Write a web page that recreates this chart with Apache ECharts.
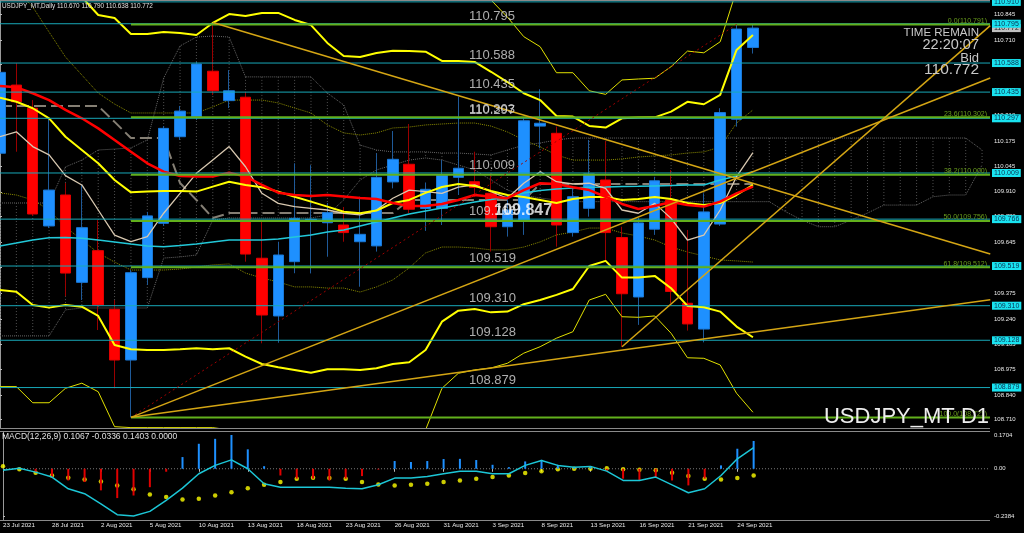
<!DOCTYPE html>
<html><head><meta charset="utf-8">
<script src="https://cdn.jsdelivr.net/npm/echarts@6/dist/echarts.min.js"></script>
<style>html,body{margin:0;padding:0;background:#000}#c{width:1024px;height:533px}</style>
</head><body><div id="c"></div>
<script>
// ---------------- DATA ----------------
const dates = ['23 Jul 2021','26 Jul 2021','27 Jul 2021','28 Jul 2021','29 Jul 2021','30 Jul 2021','2 Aug 2021','3 Aug 2021','4 Aug 2021','5 Aug 2021','6 Aug 2021','9 Aug 2021','10 Aug 2021','11 Aug 2021','12 Aug 2021','13 Aug 2021','16 Aug 2021','17 Aug 2021','18 Aug 2021','19 Aug 2021','20 Aug 2021','23 Aug 2021','24 Aug 2021','25 Aug 2021','26 Aug 2021','27 Aug 2021','30 Aug 2021','31 Aug 2021','1 Sep 2021','2 Sep 2021','3 Sep 2021','6 Sep 2021','7 Sep 2021','8 Sep 2021','9 Sep 2021','10 Sep 2021','13 Sep 2021','14 Sep 2021','15 Sep 2021','16 Sep 2021','17 Sep 2021','20 Sep 2021','21 Sep 2021','22 Sep 2021','23 Sep 2021','24 Sep 2021','27 Sep 2021'];

const open  = [110.113,110.472,110.350,109.730,109.893,109.433,109.600,109.291,109.024,109.458,109.744,110.200,110.305,110.545,110.390,110.408,109.560,109.256,109.542,109.755,109.747,109.735,109.647,109.625,109.962,110.055,109.822,109.822,109.986,109.963,109.902,109.726,109.762,110.256,110.218,109.695,109.823,109.972,109.669,109.356,109.713,109.867,109.323,109.187,109.740,110.292,110.670];
const high  = [110.570,110.587,110.393,110.297,109.956,109.946,109.761,109.340,109.498,109.804,110.256,110.362,110.594,110.791,110.551,110.436,109.753,109.647,110.060,110.050,109.851,109.830,109.884,110.113,110.230,110.267,109.959,110.077,110.411,110.121,110.008,109.893,110.297,110.450,110.253,109.937,110.183,110.177,109.726,109.772,109.989,110.025,109.709,109.902,110.350,110.791,110.790];
const low   = [110.090,110.121,109.783,109.719,109.360,109.340,109.182,108.875,108.722,109.419,109.730,110.183,110.288,110.420,110.351,109.542,109.112,109.115,109.481,109.480,109.568,109.647,109.410,109.595,109.928,109.798,109.704,109.735,109.893,109.884,109.595,109.674,109.683,110.139,109.621,109.674,109.779,109.542,109.094,109.209,109.683,109.323,109.179,109.117,109.730,110.253,110.638];
const close = [110.539,110.384,109.793,109.919,109.482,109.721,109.314,109.024,109.484,109.783,110.244,110.335,110.583,110.442,110.442,109.582,109.261,109.577,109.770,109.765,109.800,109.695,109.686,109.986,110.081,109.818,109.923,109.996,110.034,109.933,109.726,109.814,110.284,110.271,109.735,109.884,110.004,109.695,109.373,109.746,109.968,109.385,109.214,109.804,110.327,110.767,110.772];

const redMA    = [110.467,110.460,110.429,110.393,110.341,110.297,110.244,110.183,110.121,110.060,110.016,109.993,109.990,109.990,110.011,109.990,109.946,109.905,109.893,109.888,109.893,109.885,109.877,109.872,109.851,109.835,109.835,109.846,109.867,109.893,109.884,109.876,109.919,109.955,109.951,109.934,109.919,109.884,109.846,109.819,109.835,109.856,109.840,109.832,109.858,109.902,109.937];
const yellowMA = [110.406,110.384,110.350,110.297,110.200,110.130,110.060,109.972,109.907,109.911,109.914,109.914,109.911,109.937,109.963,109.946,109.934,109.911,109.884,109.858,109.832,109.805,109.797,109.811,109.851,109.867,109.904,109.935,109.951,109.941,109.914,109.893,109.883,109.867,109.851,109.872,109.883,109.883,109.867,109.872,109.883,109.872,109.851,109.840,109.851,109.893,109.946];
const beigeMA  = [110.200,110.226,110.148,110.104,109.995,109.946,109.814,109.682,109.647,109.674,109.797,109.902,110.007,110.077,110.148,110.042,109.902,109.849,109.832,109.823,109.814,109.797,109.788,109.814,109.876,109.919,109.911,109.902,109.934,109.946,109.911,109.876,109.955,110.016,109.963,109.951,109.955,109.928,109.814,109.797,109.849,109.770,109.656,109.682,109.814,109.990,110.116];
const cyanMA   = [109.625,109.640,109.656,109.668,109.669,109.665,109.656,109.646,109.635,109.625,109.621,109.627,109.635,109.646,109.656,109.656,109.656,109.661,109.672,109.682,109.698,109.709,109.730,109.751,109.772,109.793,109.809,109.825,109.840,109.856,109.869,109.883,109.904,109.917,109.925,109.930,109.934,109.935,109.938,109.939,109.941,109.943,109.946,109.946,109.972,109.993,110.016];
const upper2   = [111.250,111.200,111.140,111.060,110.990,110.936,110.841,110.825,110.741,110.741,110.752,110.746,110.736,110.799,110.846,110.836,110.852,110.852,110.815,110.788,110.694,110.625,110.620,110.641,110.653,110.651,110.648,110.599,110.599,110.594,110.542,110.488,110.429,110.393,110.309,110.306,110.257,110.248,110.297,110.301,110.302,110.332,110.384,110.371,110.420,110.657,110.736];
const lower2   = [109.393,109.384,109.314,109.300,109.314,109.305,109.256,109.103,109.081,109.077,109.077,109.081,109.086,109.081,109.086,109.042,109.003,108.986,108.972,108.957,108.975,108.975,108.972,108.981,109.003,109.012,109.077,109.226,109.284,109.293,109.275,109.279,109.318,109.340,109.367,109.398,109.519,109.546,109.458,109.458,109.467,109.402,109.309,109.302,109.279,109.200,109.144];
const upper3   = [111.600,111.550,111.500,111.450,111.350,111.300,111.250,111.200,111.100,111.050,111.120,111.120,111.110,111.200,111.260,111.260,111.300,111.320,111.280,111.240,111.100,110.990,110.990,111.030,111.050,111.060,111.050,110.970,110.960,110.945,110.920,110.830,110.727,110.674,110.537,110.537,110.442,110.423,110.499,110.504,110.508,110.569,110.651,110.642,110.700,110.973,111.130];
const lower3   = [108.884,108.884,108.799,108.799,108.875,108.902,108.857,108.673,108.668,108.668,108.668,108.668,108.668,108.668,108.656,108.603,108.550,108.524,108.498,108.487,108.498,108.498,108.498,108.508,108.540,108.577,108.656,108.875,108.954,108.972,108.982,109.007,109.060,109.094,109.139,109.173,109.340,109.370,109.252,109.249,109.256,109.165,109.036,109.033,108.998,108.849,108.749];
const oliveUp  = [111.025,110.973,110.883,110.751,110.620,110.525,110.430,110.372,110.325,110.325,110.325,110.325,110.325,110.357,110.393,110.393,110.393,110.378,110.351,110.325,110.262,110.220,110.209,110.220,110.246,110.251,110.262,110.267,110.272,110.272,110.256,110.225,110.183,110.146,110.104,110.077,110.077,110.077,110.083,110.093,110.099,110.104,110.114,110.120,110.146,110.272,110.341];
const oliveLow = [109.904,109.893,109.867,109.814,109.725,109.656,109.588,109.540,109.498,109.498,109.498,109.503,109.514,109.525,109.530,109.482,109.456,109.435,109.409,109.409,109.403,109.403,109.382,109.409,109.446,109.509,109.588,109.619,109.619,109.614,109.604,109.604,109.619,109.646,109.683,109.698,109.719,109.719,109.693,109.677,109.656,109.619,109.593,109.572,109.551,109.546,109.540];
const kijun    = [110.362,110.362,110.362,110.362,110.362,110.362,110.362,110.278,110.193,110.193,110.193,109.956,109.867,109.772,109.798,109.798,109.798,109.798,109.798,109.798,109.798,109.798,109.798,109.798,109.798,109.867,109.867,109.867,109.867,109.867,109.867,109.867,109.867,109.951,109.951,109.951,109.951,109.951,109.951,109.951,109.951,109.951,109.951,109.951,109.951,109.951,109.951];
const spanA    = [109.851,109.851,109.851,109.851,110.041,110.077,110.130,110.135,110.141,110.183,110.509,110.678,110.725,110.730,110.725,110.515,110.515,110.515,110.515,110.515,110.430,110.367,110.156,110.130,110.120,110.120,110.120,110.114,110.114,110.109,110.104,110.130,110.156,110.167,110.183,110.193,110.193,110.193,110.193,110.193,110.193,110.193,110.193,110.193,110.193,110.193,110.193,110.193,110.193,110.193,110.193,110.193,110.193,110.193,110.193,110.193,110.193,110.193,110.193,110.193,110.130];
const spanB    = [109.151,109.151,109.151,109.151,109.288,109.298,109.298,109.298,109.298,109.298,109.561,109.567,109.577,109.761,109.772,109.772,109.772,109.772,109.772,109.772,109.788,109.867,109.972,110.025,110.051,110.077,110.088,110.077,110.051,110.025,109.972,109.919,109.893,109.877,109.867,109.858,109.858,109.858,109.858,109.858,109.858,109.858,109.858,109.858,109.858,109.858,109.858,109.858,109.805,109.761,109.726,109.726,109.761,109.798,109.840,109.840,109.840,109.884,109.893,109.893,110.051];

const hLevels   = [110.910,110.795,110.588,110.435,110.297,110.009,109.766,109.519,109.310,109.128,108.879];
const levelTexts = [['110.795',110.795],['110.588',110.588],['110.435',110.435],['110.297',110.297],['110.303',110.302],['110.009',110.009],['109.766',109.766],['109.519',109.519],['109.310',109.310],['109.128',109.128],['108.879',108.879]];
const fibRatios = ['0.0','23.6','38.2','50.0','61.8','100.0'];
const fibPrices = [110.791,110.302,110.000,109.756,109.512,108.721];
const fibAnchorBar = 8;
const fibDiagonal = [[8,108.722],[45,110.791]];
const trendLines = [
  [[8,108.722],[60.5,109.342]],
  [[8,108.722],[60.5,110.509]],
  [[38,109.094],[60.5,110.785]],
  [[13,110.802],[60.5,109.582]]
];
const bidPrice = 110.772;
const markedPrice = '109.847';
const priceTicks = [108.710,108.840,108.975,109.105,109.240,109.375,109.510,109.645,109.780,109.910,110.045,110.175,110.310,110.445,110.580,110.710,110.845];

const macd   = [-0.008,0.003,-0.017,-0.042,-0.101,-0.126,-0.177,-0.232,-0.2384,-0.215,-0.160,-0.098,-0.025,0.017,0.045,0.000,-0.076,-0.093,-0.093,-0.093,-0.093,-0.098,-0.101,-0.081,-0.047,-0.047,-0.039,-0.025,-0.012,-0.012,-0.025,-0.025,0.017,0.042,0.017,0.008,0.012,-0.012,-0.059,-0.059,-0.042,-0.081,-0.121,-0.101,-0.034,0.050,0.1067];
const signal = [0.013,-0.003,-0.020,-0.034,-0.045,-0.054,-0.064,-0.084,-0.104,-0.130,-0.143,-0.155,-0.151,-0.135,-0.118,-0.098,-0.081,-0.067,-0.050,-0.045,-0.047,-0.050,-0.067,-0.079,-0.084,-0.081,-0.076,-0.067,-0.059,-0.050,-0.042,-0.034,-0.022,-0.012,-0.003,0.000,0.000,0.003,-0.002,-0.005,-0.008,-0.020,-0.037,-0.050,-0.054,-0.047,-0.0336];
const hist   = [0.000,0.005,-0.017,-0.042,-0.059,-0.067,-0.109,-0.148,-0.135,-0.093,-0.015,0.059,0.126,0.151,0.1704,0.098,0.013,-0.034,-0.050,-0.050,-0.059,-0.050,-0.037,-0.004,0.039,0.034,0.039,0.049,0.050,0.044,0.020,0.008,0.037,0.045,0.020,0.008,0.010,-0.012,-0.050,-0.059,-0.042,-0.059,-0.084,-0.050,0.017,0.101,0.1403];
const macdTicks = [0.1704, 0, -0.2384];

// ---------------- CHART ----------------
const FR = '"Liberation Sans",Arial,sans-serif';
const NB = dates.length;
const XMIN = 0, XMAX = 60.484;          // bar-index range shown across the plot
const dateTicks = dates.map((d, i) => i).filter(i => i % 3 === 0);
const idx = (arr) => arr.map((v, i) => [i, v]);

const chart = echarts.init(document.getElementById('c'), null, {renderer: 'canvas'});

function lineS(data, color, width, type, z) {
  return {type: 'line', xAxisIndex: 0, yAxisIndex: 0, data: idx(data), symbol: 'none', silent: true,
    lineStyle: {color: color, width: width, type: type || 'solid'}, z: z || 3};
}

const series = [];
// Ichimoku cloud hatch
series.push({type: 'custom', xAxisIndex: 0, yAxisIndex: 0, silent: true, z: 1,
  data: spanA.map((a, i) => [i, a, spanB[i]]), encode: {x: 0, y: [1, 2]},
  renderItem: function (params, api) {
    const p1 = api.coord([api.value(0), api.value(1)]);
    const p2 = api.coord([api.value(0), api.value(2)]);
    return {type: 'line', shape: {x1: p1[0], y1: p1[1], x2: p2[0], y2: p2[1]},
      style: {stroke: '#505050', lineWidth: 1, lineDash: [1, 2]}};
  }});
series.push(lineS(spanA, '#666', 1, 'dotted', 1));
series.push(lineS(spanB, '#666', 1, 'dotted', 1));
series.push(lineS(oliveUp, '#8a8a00', 1, 'dotted', 1));
series.push(lineS(oliveLow, '#8a8a00', 1, 'dotted', 1));
series.push(lineS(kijun, '#857f74', 2, [12, 5], 1));

// candles: wicks, then bodies
series.push({type: 'candlestick', xAxisIndex: 0, yAxisIndex: 0, silent: true, z: 2, barWidth: 1,
  data: open.map((o, i) => [i, o, close[i], low[i], high[i]]), encode: {x: 0, y: [1, 2, 3, 4]},
  itemStyle: {color: '#1f5a99', color0: '#9a0000', borderColor: '#1f5a99', borderColor0: '#9a0000', borderWidth: 1}});
series.push({type: 'candlestick', xAxisIndex: 0, yAxisIndex: 0, silent: true, z: 2, barWidth: 11,
  data: open.map((o, i) => [i, o, close[i], Math.min(o, close[i]), Math.max(o, close[i])]), encode: {x: 0, y: [1, 2, 3, 4]},
  itemStyle: {color: '#1E90FF', color0: '#FF0000', borderColor: '#1a78d6', borderColor0: '#e00000', borderWidth: 1}});

// indicators
series.push(lineS(upper3, '#E0E000', 1));
series.push(lineS(lower3, '#E0E000', 1));
series.push(lineS(upper2, '#FFFF00', 2));
series.push(lineS(lower2, '#FFFF00', 2));
series.push(lineS(cyanMA, '#22C8D8', 1.5));
series.push(lineS(beigeMA, '#D8C8B0', 1.3));
series.push(lineS(yellowMA, '#FFFF00', 2));
series.push(lineS(redMA, '#FF0000', 2.5));

// bid label (under the level boxes)
series.push({type: 'line', xAxisIndex: 0, yAxisIndex: 0, data: [[XMIN, bidPrice], [XMAX, bidPrice]], symbol: 'none', clip: false, silent: true,
  lineStyle: {opacity: 0}, z: 4,
  endLabel: {show: true, formatter: bidPrice.toFixed(3), distance: 2, backgroundColor: '#c0c0c0', color: '#222', fontSize: 7, fontFamily: FR, padding: [0, 2, 0, 2], lineHeight: 8}});

// horizontal levels
hLevels.forEach(p => series.push({type: 'line', xAxisIndex: 0, yAxisIndex: 0, data: [[XMIN, p], [XMAX, p]], symbol: 'none', clip: false, silent: true,
  lineStyle: {color: '#18A8B8', width: 1}, z: 5,
  endLabel: {show: true, formatter: p.toFixed(3), distance: 2, backgroundColor: '#19E3F0', color: '#0c3050', fontSize: 7, fontFamily: FR, padding: [0, 2, 0, 2], lineHeight: 8}}));

// fibonacci
fibPrices.forEach((p, k) => series.push({type: 'line', xAxisIndex: 0, yAxisIndex: 0, data: [[fibAnchorBar, p], [XMAX, p]], symbol: 'none', clip: false, silent: true,
  lineStyle: {color: '#62B01C', width: 2}, z: 6,
  endLabel: {show: true, formatter: fibRatios[k] + '(' + p.toFixed(3) + ')', distance: 0, offset: [-3, 0], align: 'right', verticalAlign: 'bottom', color: '#6a9e1c', fontSize: 7, fontFamily: FR}}));
series.push({type: 'line', xAxisIndex: 0, yAxisIndex: 0, data: fibDiagonal, symbol: 'none', silent: true,
  lineStyle: {color: '#a00000', width: 1, type: [2, 3]}, z: 6});

// trendlines
trendLines.forEach(t => series.push({type: 'line', xAxisIndex: 0, yAxisIndex: 0, data: t, symbol: 'none', silent: true,
  lineStyle: {color: '#D4A514', width: 1.5}, z: 6}));

// in-chart texts
const textX = 28.62;
const txtData = levelTexts.map(t => ({name: t[0], value: [textX, t[1]]}));
txtData.push({name: markedPrice, value: [textX + 1.55, levelTexts[6][1]],
  label: {fontWeight: 'bold', fontSize: 16, color: '#ffffff'}});
series.push({type: 'scatter', xAxisIndex: 0, yAxisIndex: 0, data: txtData, symbolSize: 1, silent: true, z: 8,
  itemStyle: {color: 'transparent'},
  label: {show: true, formatter: '{b}', position: 'right', distance: 0, verticalAlign: 'bottom', offset: [0, -1],
    color: '#D8D8D8', fontSize: 13, fontFamily: FR}});

// MACD panel
series.push({type: 'line', xAxisIndex: 1, yAxisIndex: 1, data: [[XMIN, 0], [XMAX, 0]], symbol: 'none', silent: true,
  lineStyle: {color: '#7a7a7a', width: 1, type: [1, 2]}, z: 2});
series.push({type: 'scatter', xAxisIndex: 1, yAxisIndex: 1, data: idx(signal), symbolSize: 4.5, silent: true,
  itemStyle: {color: '#FFFF00'}, z: 3});
series.push({type: 'bar', xAxisIndex: 1, yAxisIndex: 1, data: idx(hist), barWidth: 2, silent: true,
  itemStyle: {color: (p) => p.value[1] >= 0 ? '#1E90FF' : '#E00000'}, z: 4});
series.push({type: 'line', xAxisIndex: 1, yAxisIndex: 1, data: idx(macd), symbol: 'none', silent: true,
  lineStyle: {color: '#1CC6D6', width: 1.5}, z: 5});

const last = NB - 1;
const frame = (y) => ({type: 'line', z: 40, silent: true, shape: {x1: 0, y1: y, x2: 990, y2: y}, style: {stroke: '#8a8a8a', lineWidth: 1}});
const option = {
  backgroundColor: '#000',
  animation: false,
  grid: [
    {left: 0, right: 34, top: 0, height: 428},
    {left: 0, right: 34, top: 432, height: 88}
  ],
  xAxis: [
    {type: 'value', gridIndex: 0, min: XMIN, max: XMAX, show: false},
    {type: 'value', gridIndex: 1, min: XMIN, max: XMAX,
      axisLine: {show: false}, splitLine: {show: false},
      axisTick: {show: true, customValues: dateTicks, length: 3, lineStyle: {color: '#bbb'}},
      axisLabel: {show: true, customValues: dateTicks, align: 'left', margin: 2, color: '#E8E8E8', fontSize: 6.2, fontFamily: FR,
        formatter: v => dates[Math.round(v)] || ''}}
  ],
  yAxis: [
    {type: 'value', gridIndex: 0, position: 'right', min: 108.666, max: 110.920,
      splitLine: {show: false}, axisLine: {show: true, lineStyle: {color: '#9a9a9a'}},
      axisTick: {show: true, length: 2, customValues: priceTicks, lineStyle: {color: '#bbb'}},
      axisLabel: {show: true, customValues: priceTicks, margin: 4, color: '#E8E8E8', fontSize: 6, fontFamily: FR,
        formatter: v => v.toFixed(3)}},
    {type: 'value', gridIndex: 1, position: 'right', min: -0.2586, max: 0.1855,
      splitLine: {show: false}, axisLine: {show: true, lineStyle: {color: '#9a9a9a'}},
      axisTick: {show: true, length: 2, customValues: macdTicks, lineStyle: {color: '#bbb'}},
      axisLabel: {show: true, customValues: macdTicks, margin: 4, color: '#E8E8E8', fontSize: 6, fontFamily: FR,
        formatter: v => v === 0 ? '0.00' : v.toFixed(4)}}
  ],
  graphic: [
    frame(0.5), frame(428.5), frame(431.5), frame(520.5),
    {type: 'text', x: 2, y: 6, z: 50, style: {text: 'USDJPY_MT,Daily ' + [open[last], high[last], low[last], close[last]].map(v => v.toFixed(3)).join(' '),
      fill: '#E0E0E0', font: '6.4px ' + FR, verticalAlign: 'middle'}},
    {type: 'text', x: 2, y: 437, z: 50, style: {text: 'MACD(12,26,9) ' + [macd[last].toFixed(4), signal[last].toFixed(4), hist[last].toFixed(4), '0.0000'].join(' '),
      fill: '#E0E0E0', font: '8.5px ' + FR, verticalAlign: 'middle'}},
    {type: 'text', x: 979, y: 32.5, z: 50, style: {text: 'TIME REMAIN', fill: '#C8C8C8', font: '11.5px ' + FR, align: 'right', verticalAlign: 'middle'}},
    {type: 'text', x: 979, y: 44.5, z: 50, style: {text: '22:20:07', fill: '#C8C8C8', font: '14.5px ' + FR, align: 'right', verticalAlign: 'middle'}},
    {type: 'text', x: 979, y: 58, z: 50, style: {text: 'Bid', fill: '#C8C8C8', font: '13px ' + FR, align: 'right', verticalAlign: 'middle'}},
    {type: 'text', x: 979, y: 70, z: 50, style: {text: close[last].toFixed(3), fill: '#C8C8C8', font: '15.5px ' + FR, align: 'right', verticalAlign: 'middle'}},
    {type: 'text', x: 989, y: 417, z: 50, style: {text: 'USDJPY_MT D1', fill: '#EEEEEE', font: '22px ' + FR, align: 'right', verticalAlign: 'middle'}}
  ],
  series: series
};
chart.setOption(option);
</script></body></html>
